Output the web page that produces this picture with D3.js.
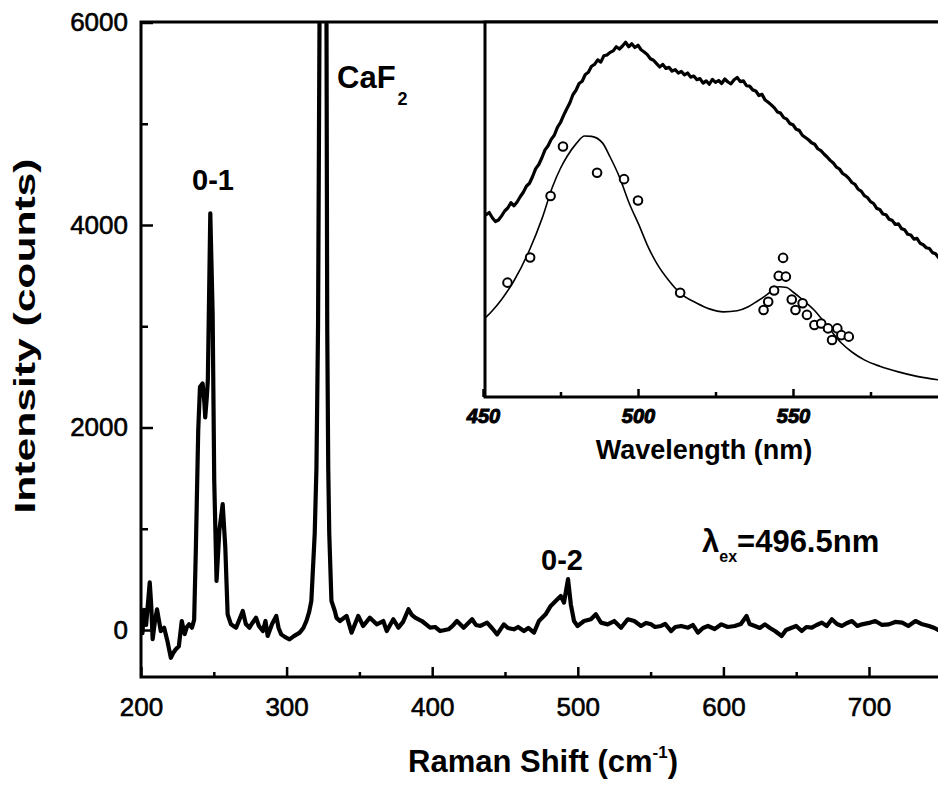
<!DOCTYPE html>
<html><head><meta charset="utf-8">
<script src="https://cdn.jsdelivr.net/npm/d3@7"></script>
<style>
html,body{margin:0;padding:0;background:#fff;}
svg{display:block;font-family:"Liberation Sans",Arial,sans-serif;}
</style></head>
<body>
<svg id="chart" width="938" height="793"></svg>
<script>
// ---------- main spectrum: Raman shift (cm-1) vs intensity (counts) ----------
const ramanShift = [201,202,203.5,205,206,207,208,209.5,211,212.5,213.6,215.9,218,220.5,222,223.9,226,228,229,230,231.5,233,235,236.5,237.7,239.3,240.5,242.3,243.5,244.1,245.2,245.9,247.6,249.2,250.3,251.9,253.8,256.1,257.9,259.5,261.8,263.5,265.3,267.5,269.9,272,274.5,276.5,279,281,283.7,285.5,287,290,292.9,294.5,296.3,299,302,305,309,311.5,313.6,315.5,317,319.3,320.5,321.6,322.6,323,327,327.4,327.9,328.6,329.3,330.8,333.1,334.3,336.6,341.2,344.6,349.2,352.6,357.2,361.9,366.4,368.8,373.3,376.8,380,383.7,386,388.3,392.9,398.6,402,405.5,411.2,414,417,421.6,427.4,430,433.1,437.7,441,444.6,449.2,452,456.1,459,463,466,469.9,473.3,477.9,481.4,484.8,488.3,490.5,493.3,495.2,497.4,499.8,504.3,509,512.4,515.9,520.5,525,529.7,534.3,538.8,543.4,547,550.3,553,557.2,560,564.1,567,571,575.7,579,582.5,586,589.4,594,598.6,603,607.8,612,615.9,618,621.6,625,628.5,632,635.4,640,643,646.9,650,653.8,657,660.7,664,667.6,671,674.5,678,681.4,685,688.3,692,695.2,700,704.3,709,713.6,718,722.8,727,731.9,736,741.2,745,749,752];
const intensity = [-30,200,50,300,470,250,-90,80,205,80,-10,23,-100,-274,-230,-190,-160,89,20,-40,30,56,23,100,815,1970,2400,2436,2250,2100,2300,2465,4115,3128,1475,485,980,1244,815,155,56,40,23,100,188,60,23,70,122,40,-10,89,-59,60,139,20,-43,-70,-92,-60,-26,20,89,180,287,950,1600,3000,6000,6600,6600,6000,3000,1600,950,287,188,120,89,139,-26,139,40,122,56,89,-10,106,23,80,205,150,122,89,23,30,-10,7,40,89,23,106,50,40,73,20,-43,56,20,7,30,-10,20,-26,89,155,238,287,337,270,502,254,89,40,89,106,155,73,56,89,23,106,89,40,70,56,30,40,60,-10,30,40,23,50,-26,20,40,10,56,30,40,60,139,60,40,20,56,20,-10,-59,0,23,40,-10,30,23,50,73,40,106,60,40,70,89,40,56,70,89,50,56,80,73,40,89,60,40,20,-10,-30];

const mainXMajor = [200,300,400,500,600,700];
const mainXMinor = [250,350,450,550,650,750];
const mainYMajor = [0,2000,4000,6000];
const mainYMinor = [1000,3000,5000];

// ---------- inset: emission spectrum (arb. units) vs wavelength (nm) ----------
const emWavelength = [450,451,452,453,454,455,456,457,458,459,460,461,462,463,464,465,466,467,468,469,470,471,472,473,474,475,476,477,478,479,480,481,482,483,484,485,486,487,488,489,490,491,492,493,494,495,496,497,498,499,500,501,502,503,504,505,506,507,508,509,510,511,512,513,514,515,516,517,518,519,520,521,522,523,524,525,526,527,528,529,530,531,532,533,534,535,536,537,538,539,540,541,542,543,544,545,546,547,548,549,550,551,552,553,554,555,556,557,558,559,560,561,562,563,564,565,566,567,568,569,570,571,572,573,574,575,576,577,578,579,580,581,582,583,584,585,586,587,588,589,590,591,592,593,594,595,596,597,598];
const emIntensity = [49.0,48.6,49.2,47.8,46.8,47.2,48.3,49.6,50.4,51.8,51.0,52.0,53.4,54.6,56.2,57.0,58.8,60.9,62.0,63.8,65.9,67.0,68.7,69.8,71.9,73.2,75.1,76.8,78.4,80.6,81.8,83.6,84.2,86.0,86.6,88.2,88.7,89.9,89.3,91.0,91.2,91.9,92.3,93.4,92.8,93.6,94.6,93.4,94.2,93.2,93.8,92.6,92.0,91.3,90.2,89.8,88.9,88.0,88.7,87.6,87.9,86.9,87.3,86.4,86.8,85.9,86.4,85.3,85.6,84.6,84.9,83.7,84.3,83.4,84.7,83.9,84.4,83.6,84.8,84.0,83.5,84.6,85.2,84.1,84.3,83.0,82.9,81.9,81.6,80.4,80.7,79.2,78.6,77.9,77.1,76.0,75.7,74.5,74.1,72.9,72.6,71.4,71.1,69.8,69.2,68.6,67.8,67.4,66.2,65.7,64.8,64.0,63.1,62.4,61.3,60.8,59.6,59.1,58.3,57.2,56.7,55.4,54.9,53.7,53.2,52.1,51.6,50.3,50.0,48.8,48.6,47.4,47.1,46.0,46.2,44.9,44.6,43.4,43.2,42.1,42.3,41.0,40.6,39.8,39.6,38.5,38.2,37.1,37.0];

const fitWavelength = [450,453,456,460,465,469,472.4,475,477,480,482.8,485,488.6,491,494,497,500.6,503,506,510,513.6,519,523,527.6,532,535.4,538,540.6,543,545.5,548,550,553,556.8,561,565.6,569,573,578,584,590,597.5];
const fitIntensity = [20.5,23,26,31,39.2,47.5,56,61,64,67.5,69.6,69.5,67.7,64,58.7,52,45.3,40.5,35.7,31,27.7,25,23.5,22.7,23,24,25.3,26.7,28.2,29.4,29.2,28,26,23.2,19,14.4,12,9.9,8.2,6.7,5.5,4.5];

const ptWavelength = [457.9,465.2,471.8,475.8,486.8,495.5,500,513.6,540.5,542,543.9,545.4,547.7,546.8,549.6,550.8,553.1,554.5,556.9,559.1,561.3,562.6,564.3,565.6,568];
const ptIntensity = [30.5,37.2,53.6,66.8,59.8,58.1,52.4,27.8,23.2,25.4,28.4,32.3,32.1,37.1,26,23.2,25,21.9,19.2,19.6,18.3,15.2,18.3,16.5,16.1];

const insetXMajor = [450,500,550];
const insetXMinor = [475,525,575];

// ---------- drawing ----------
const svg = d3.select("#chart");
const M = {left:141, top:22, bottom:677, right:942};
const x = d3.scaleLinear().domain([200,750]).range([141,941.8]);
const y = d3.scaleLinear().domain([-464,6000]).range([677,22.5]);

const I = {left:485, top:22, bottom:397, right:948};
const xi = d3.scaleLinear().domain([450,600]).range([483,948]);
const yi = d3.scaleLinear().domain([0,100]).range([397,22]);

const defs = svg.append("defs");
defs.append("clipPath").attr("id","clipMain").append("rect")
  .attr("x",M.left).attr("y",M.top).attr("width",M.right-M.left).attr("height",M.bottom-M.top);
defs.append("clipPath").attr("id","clipInset").append("rect")
  .attr("x",I.left).attr("y",I.top).attr("width",I.right-I.left).attr("height",I.bottom-I.top);

const tickFont = "26px";
function styleAxis(g){
  g.select(".domain").remove();
  g.selectAll(".tick line").attr("stroke","#000").attr("stroke-width",2.5);
  g.selectAll(".tick text").attr("fill","#000").attr("stroke","#000").attr("stroke-width",0.6)
    .style("font-size",tickFont).style("font-family",'"Liberation Sans",Arial,sans-serif');
}

// main axes
svg.append("g").attr("transform",`translate(0,${M.bottom})`)
  .call(d3.axisBottom(x).tickValues(mainXMajor).tickSize(-10).tickPadding(21).tickFormat(d3.format("d")))
  .call(styleAxis);
svg.append("g").attr("transform",`translate(0,${M.bottom})`)
  .call(d3.axisBottom(x).tickValues(mainXMinor).tickSize(-5).tickFormat(""))
  .call(styleAxis);
svg.append("g").attr("transform",`translate(${M.left},0)`)
  .call(d3.axisLeft(y).tickValues(mainYMajor).tickSize(-12).tickPadding(13).tickFormat(d3.format("d")))
  .call(styleAxis);
svg.append("g").attr("transform",`translate(${M.left},0)`)
  .call(d3.axisLeft(y).tickValues(mainYMinor).tickSize(-7).tickFormat(""))
  .call(styleAxis);

// main curve
const mainData = ramanShift.map((d,i)=>[d,intensity[i]]);
svg.append("path").datum(mainData)
  .attr("clip-path","url(#clipMain)")
  .attr("fill","none").attr("stroke","#000").attr("stroke-width",4.2)
  .attr("stroke-linejoin","round").attr("stroke-linecap","round")
  .attr("d",d3.line().x(d=>x(d[0])).y(d=>y(d[1])));

// main frame
svg.append("path")
  .attr("d",`M${M.right},${M.top}H${M.left}V${M.bottom}H${M.right}`)
  .attr("fill","none").attr("stroke","#000").attr("stroke-width",3);

// inset
svg.append("rect").attr("x",I.left).attr("y",I.top).attr("width",I.right-I.left).attr("height",I.bottom-I.top).attr("fill","#fff");

const emData = emWavelength.map((d,i)=>[d,emIntensity[i]]);
svg.append("path").datum(emData).attr("clip-path","url(#clipInset)")
  .attr("fill","none").attr("stroke","#000").attr("stroke-width",3.2)
  .attr("stroke-linejoin","round")
  .attr("d",d3.line().x(d=>xi(d[0])).y(d=>yi(d[1])));

const fitData = fitWavelength.map((d,i)=>[d,fitIntensity[i]]);
svg.append("path").datum(fitData).attr("clip-path","url(#clipInset)")
  .attr("fill","none").attr("stroke","#000").attr("stroke-width",1.6)
  .attr("d",d3.line().curve(d3.curveMonotoneX).x(d=>xi(d[0])).y(d=>yi(d[1])));

svg.append("g").attr("clip-path","url(#clipInset)").selectAll("circle")
  .data(ptWavelength.map((d,i)=>[d,ptIntensity[i]])).join("circle")
  .attr("cx",d=>xi(d[0])).attr("cy",d=>yi(d[1])).attr("r",4.3)
  .attr("fill","#fff").attr("stroke","#000").attr("stroke-width",2);

function styleInsetAxis(g){
  g.select(".domain").remove();
  g.selectAll(".tick line").attr("stroke","#000").attr("stroke-width",2.5);
  g.selectAll(".tick text").attr("fill","#000").attr("stroke","#000").attr("stroke-width",1)
    .style("font-size","20px").style("font-weight","bold").style("font-style","italic")
    .style("font-family",'"Liberation Sans",Arial,sans-serif');
}
svg.append("g").attr("transform",`translate(0,${I.bottom})`)
  .call(d3.axisBottom(xi).tickValues(insetXMajor).tickSize(-8).tickPadding(12).tickFormat(d3.format("d")))
  .call(styleInsetAxis);
svg.append("g").attr("transform",`translate(0,${I.bottom})`)
  .call(d3.axisBottom(xi).tickValues(insetXMinor).tickSize(-5).tickFormat(""))
  .call(styleInsetAxis);

svg.append("path")
  .attr("d",`M${I.right},${I.top}H${I.left}V${I.bottom}H${I.right}`)
  .attr("fill","none").attr("stroke","#000").attr("stroke-width",3);

// labels
const bold = t => t.attr("fill","#000").style("font-weight","bold");
bold(svg.append("text").attr("x",704).attr("y",459).attr("text-anchor","middle")
  .style("font-size","27px").text("Wavelength (nm)"));

bold(svg.append("text").attr("transform","translate(35,336) rotate(-90)").attr("text-anchor","middle")
  .attr("textLength",355).attr("lengthAdjust","spacingAndGlyphs")
  .style("font-size","30px").text("Intensity (counts)"));

const xt = bold(svg.append("text").attr("x",408).attr("y",772).style("font-size","31px"));
xt.append("tspan").text("Raman Shift (cm");
xt.append("tspan").attr("dy",-14).style("font-size","17px").text("-1");
xt.append("tspan").attr("dy",14).text(")");

bold(svg.append("text").attr("x",213).attr("y",190).attr("text-anchor","middle").style("font-size","29px").text("0-1"));
bold(svg.append("text").attr("x",562).attr("y",570).attr("text-anchor","middle").style("font-size","29px").text("0-2"));

const caf = bold(svg.append("text").attr("x",337).attr("y",88).style("font-size","31px"));
caf.append("tspan").text("CaF");
caf.append("tspan").attr("dy",17).attr("dx",2).style("font-size","18px").text("2");

const lam = bold(svg.append("text").attr("x",702).attr("y",552).style("font-size","31px"));
lam.append("tspan").text("λ");
lam.append("tspan").attr("dy",10).style("font-size","16px").text("ex");
lam.append("tspan").attr("dy",-10).text("=496.5nm");
</script>
</body></html>
